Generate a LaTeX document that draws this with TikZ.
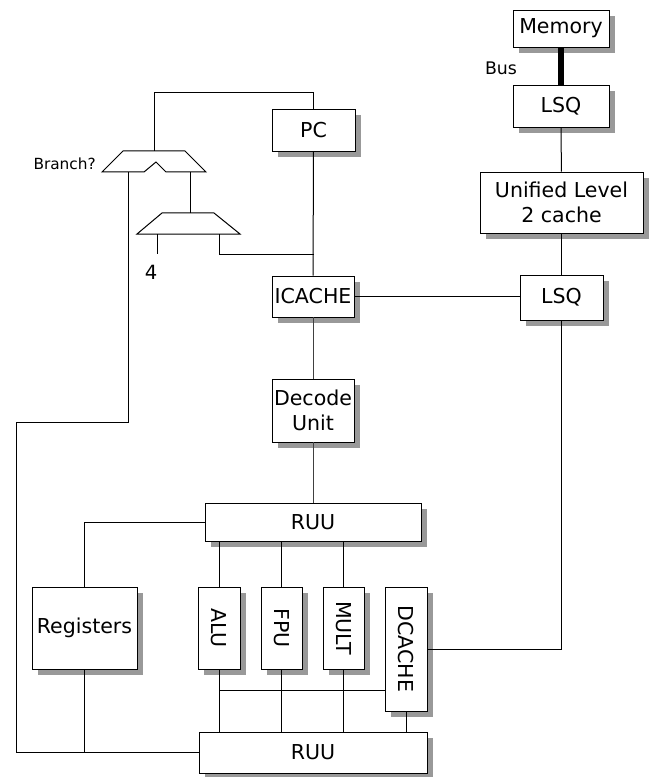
\documentclass[tikz,border=0pt]{standalone}
\usepackage{fontspec}
\usepackage{graphicx}
\setmainfont{DejaVu Sans}
\definecolor{shadowc}{gray}{0.6}
\newcommand\archbox[6]{%
  \fill[shadowc] (#2+6,#3+6) rectangle (#4+6,#5+6);
  \node[box, minimum width={(#4-#2)*0.75pt}, minimum height={(#5-#3)*0.75pt}] (#1) at ({(#2+#4)/2},{(#3+#5)/2}) {#6};
}
\begin{document}
\begin{tikzpicture}[x=0.75pt,y=-0.75pt,
  box/.style={draw, fill=white, line width=0.7pt, inner sep=0pt, align=center,
    font=\fontsize{15.4}{19}\selectfont},
  wire/.style={line width=0.75pt},
  thinwire/.style={line width=0.6pt, black!75},
  buswire/.style={line width=4.5pt},
  lbl/.style={inner sep=0pt}]
\useasboundingbox (0,0) rectangle (650,777);

% memory hierarchy
\archbox{mem}{513}{10}{609}{47}{Memory}
\archbox{lsqa}{513}{85}{609}{127}{LSQ}
\archbox{ulc}{480}{172}{643}{233}{Unified Level\\2 cache}
\archbox{lsqb}{520}{275}{603}{320}{LSQ}

% front end
\archbox{pc}{272}{109}{355}{151}{PC}
\archbox{icache}{272}{276}{354}{317}{ICACHE}
\archbox{dec}{272}{379}{354}{442}{Decode\\Unit}

% back end
\archbox{ruua}{205}{503}{421}{541}{RUU}
\archbox{reg}{32}{587}{137}{669}{Registers}
\archbox{alu}{198}{587}{240}{669}{\rotatebox{-90}{ALU}}
\archbox{fpu}{261}{587}{302}{669}{\rotatebox{-90}{FPU}}
\archbox{mult}{323}{587}{364}{669}{\rotatebox{-90}{MULT}}
\archbox{dcache}{385}{587}{427}{711}{\rotatebox{-90}{DCACHE}}
\archbox{ruub}{199}{732}{427}{773}{RUU}

% muxes
\draw[wire] (123,151) -- (185,151) -- (206,172) -- (166,172) -- (156,162)
  -- (144,172) -- (102,172) -- cycle;
\draw[wire] (162,213) -- (214,213) -- (240,234) -- (137,234) -- cycle;
\coordinate (m1top) at (154,151);
\coordinate (m1out) at (190,172);
\coordinate (m2top) at (190,213);
\coordinate (m1in) at (128,172);
\coordinate (m2a) at (157,234);
\coordinate (m2aend) at (157,254);
\coordinate (m2b) at (219,234);
\coordinate (m2bend) at (219,254);
\coordinate (pcline) at (313.5,254);
\node[lbl, font=\fontsize{11.5}{14}\selectfont, anchor=east] (br) at (96,164) {Branch?};
\node[lbl, font=\fontsize{14.7}{17}\selectfont] (four) at (151,272) {4};
\node[lbl, font=\fontsize{13}{16}\selectfont] (bus) at (501,68) {Bus};

% connectors
\draw[buswire] (mem) -- (lsqa);
\draw[wire] (lsqa) -- (ulc);
\draw[wire] (ulc) -- (lsqb);
\draw[wire] (icache.east) -- (icache.east -| lsqb.west);
\draw[wire] (lsqb) |- (dcache);

\draw[wire] (pc) |- (m1top |- 0,93) -- (m1top);
\draw[wire] (m1out) -- (m2top);
\draw[wire] (m2a) -- (m2aend);
\draw[wire] (m2b) -- (m2bend) -- (pcline);
\draw[wire] (pc) -- (icache);
\draw[thinwire] (icache) -- (dec);
\draw[thinwire] (dec) -- (dec |- ruua.north);

\coordinate (lc1) at (128,422);
\coordinate (lc2) at (16,422);
\draw[wire] (m1in) -- (lc1) -- (lc2) |- (ruub.west);

\draw[wire] (reg) |- (ruua);
\draw[wire] (reg) -- (reg |- ruub.west);

\foreach \u in {alu,fpu,mult} {
  \draw[wire] (\u) -- (\u |- ruua.south);
  \draw[wire] (\u) -- (\u |- ruub.north);
}
\draw[wire] (dcache) -- (dcache |- ruub.north);
\coordinate (hbus) at (219,690);
\draw[wire] (hbus) -- (hbus -| dcache.west);
\end{tikzpicture}
\end{document}
